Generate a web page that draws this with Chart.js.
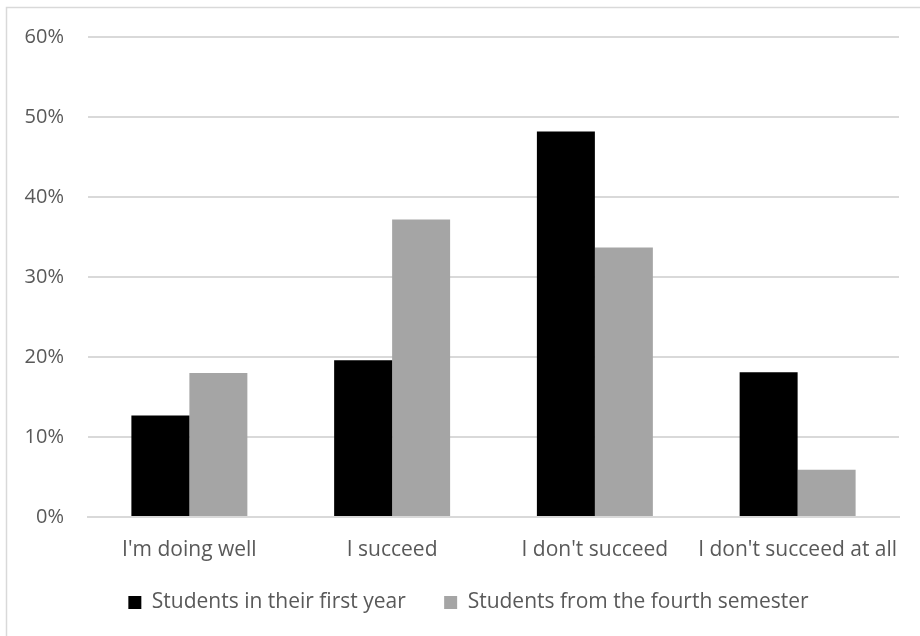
<!DOCTYPE html>
<html>
<head>
<meta charset="utf-8">
<script src="https://cdn.jsdelivr.net/npm/chart.js@4.4.1/dist/chart.umd.min.js"></script>
<style>
  html, body { margin: 0; padding: 0; background: #fff; }
</style>
</head>
<body>
<canvas id="myChart" width="920" height="636"></canvas>
<script>
var categorias = ["I'm doing well", "I succeed", "I don't succeed", "I don't succeed at all"];
var primeiroAno = [12.7, 19.6, 48.2, 18.1];
var quartoSemestre = [18.0, 37.2, 33.7, 5.9];
var serieNomes = ['Students in their first year', 'Students from the fourth semester'];

Chart.defaults.font.family = "'Open Sans', 'Noto Sans', sans-serif";
Chart.defaults.font.size = 20;
Chart.defaults.color = '#595959';

// moldura cinza ao redor do grafico
const moldura = {
  id: 'moldura',
  beforeDraw(chart) {
    const c = chart.ctx;
    c.save();
    c.strokeStyle = '#d9d9d9';
    c.lineWidth = 1.5;
    c.strokeRect(6.5, 7.5, 930, 640);
    c.restore();
  }
};

// empurra a legenda um pouco para a direita
const ajusteLegenda = {
  id: 'ajusteLegenda',
  afterLayout(chart) {
    if (chart.legend) chart.legend.left += 38;
  }
};

var ctx = document.getElementById('myChart');
var myChart = new Chart(ctx, {
  type: 'bar',
  data: {
    labels: categorias,
    datasets: [{
      label: serieNomes[0],
      data: primeiroAno,
      backgroundColor: '#000000'
    }, {
      label: serieNomes[1],
      data: quartoSemestre,
      backgroundColor: '#a5a5a5'
    }]
  },
  options: {
    responsive: false,
    animation: false,
    layout: {
      padding: { top: 37, right: 21, bottom: 13, left: 0 }
    },
    datasets: {
      bar: { categoryPercentage: 0.572, barPercentage: 1.0 }
    },
    scales: {
      x: {
        afterFit: function (s) { s.height = 53; },
        grid: { display: false, drawTicks: false },
        border: { color: '#d9d9d9', width: 2 },
        ticks: { padding: 20, maxRotation: 0, autoSkip: false, font: { size: 21 } }
      },
      y: {
        min: 0,
        max: 60,
        afterFit: function (s) { s.width = 88; },
        grid: { color: '#d9d9d9', lineWidth: 2, drawTicks: false },
        border: { display: false },
        ticks: {
          stepSize: 10,
          padding: 24,
          callback: function (v) { return v + '%'; }
        }
      }
    },
    plugins: {
      legend: {
        display: true,
        position: 'bottom',
        labels: {
          boxWidth: 13,
          boxHeight: 13,
          padding: 22,
          font: { size: 21 },
          generateLabels: function (chart) {
            var itens = Chart.defaults.plugins.legend.labels.generateLabels(chart);
            // espaco extra entre os dois itens da legenda
            itens[0].text = itens[0].text + '   ';
            return itens;
          }
        }
      },
      tooltip: { enabled: false }
    }
  },
  plugins: [moldura, ajusteLegenda]
});
</script>
</body>
</html>
